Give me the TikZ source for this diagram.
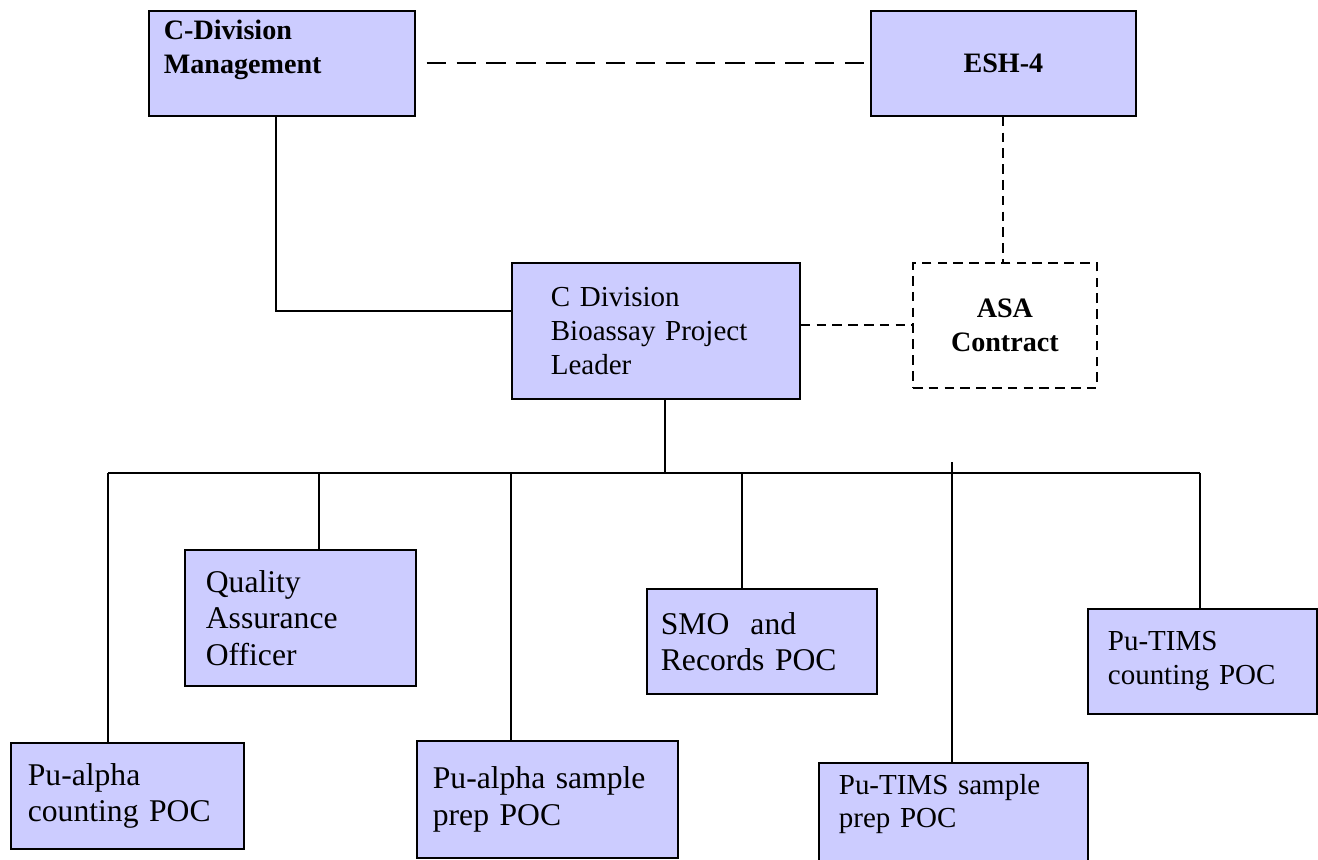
\documentclass[tikz,border=0pt]{standalone}
\usepackage{fontspec}
\setmainfont{Liberation Serif}
\usetikzlibrary{shadows}
\definecolor{boxfill}{RGB}{204,204,255}

\begin{document}
\begin{tikzpicture}[x=0.02cm,y=-0.02cm,
    orgbox/.style={draw,line width=1pt,fill=boxfill,anchor=north west,align=left,inner ysep=0pt,
        drop shadow={shadow xshift=0.7pt,shadow yshift=-0.9pt,fill=boxfill!70!gray,opacity=0.6}},
    asabox/.style={draw,line width=1pt,dash pattern=on 5.5pt off 3.5pt,anchor=north west,align=center,inner sep=0pt},
    big/.style={font=\fontsize{18}{20.7}\selectfont},
    mid/.style={font=\fontsize{16.5}{19.3}\selectfont},
    head/.style={font=\fontsize{16}{19}\selectfont\bfseries},
    conn/.style={line width=0.9pt},
    longdash/.style={line width=1pt,dash pattern=on 11pt off 6pt},
    shortdash/.style={line width=1pt,dash pattern=on 5.5pt off 3.5pt}]

    \clip (0,0) rectangle (1318,859);

    % top row
    \node[orgbox,head,minimum height=2.1cm,inner xsep=0.3cm,text width=4.72cm] (cdm) at (148,10) {C-Division\\Management\\~};
    \node[orgbox,head,align=center,minimum width=5.3cm,minimum height=2.1cm] (esh) at (870,10) {ESH-4};

    % project leader and contract
    \node[orgbox,mid,minimum height=2.72cm,inner xsep=0.78cm,text width=4.2cm] (cdbpl) at (511,262) {C Division\\Bioassay Project\\Leader};
    \node[asabox,head,minimum width=3.68cm,minimum height=2.5cm] (asa) at (912,262) {ASA\\Contract};

    % points of contact
    \node[orgbox,big,minimum height=2.72cm,inner xsep=0.42cm,text width=3.78cm] (qao) at (184,549) {Quality\\Assurance\\Officer};
    \node[orgbox,big,minimum height=2.1cm,inner xsep=0.28cm,text width=4.04cm] (smo) at (646,588) {SMO\ \ and\\Records POC};
    \node[orgbox,mid,minimum height=2.1cm,inner xsep=0.4cm,text width=3.78cm] (ptc) at (1087,608) {Pu-TIMS\\counting POC};
    \node[orgbox,big,minimum height=2.12cm,inner xsep=0.34cm,text width=3.98cm] (pac) at (10,742) {Pu-alpha\\counting POC};
    \node[orgbox,big,minimum height=2.34cm,inner xsep=0.32cm,text width=4.58cm] (pas) at (416,740) {Pu-alpha sample\\prep POC};
    \node[orgbox,mid,minimum height=2.2cm,inner xsep=0.4cm,text width=4.58cm] (pts) at (818,762) {Pu-TIMS sample\\prep POC\\~};

    % dashed links
    \draw[longdash,shorten <=0.22cm,shorten >=0.1cm] (cdm) -- (esh);
    \draw[shortdash] (esh.south) -- (esh.south |- asa.north);
    \draw[shortdash] (cdbpl.east |- asa.west) -- (asa.west);

    % solid links
    \draw[conn] ([xshift=-0.12cm]cdm.south) |- ([yshift=0.4cm]cdbpl.west);
    \coordinate (hub) at (665,473);
    \coordinate (b1) at (108,473);
    \coordinate (b2) at (319,473);
    \coordinate (b3) at (511,473);
    \coordinate (b4) at (742,473);
    \coordinate (b5) at (952,462);
    \coordinate (b6) at (1200,473);
    \draw[conn] (cdbpl.south -| hub) -- (hub);
    \draw[conn] (b1) -- (b6);
    \foreach \b/\n in {b1/pac,b2/qao,b3/pas,b4/smo,b5/pts,b6/ptc}
        \draw[conn] (\b) -- (\b |- \n.north);
\end{tikzpicture}
\end{document}
